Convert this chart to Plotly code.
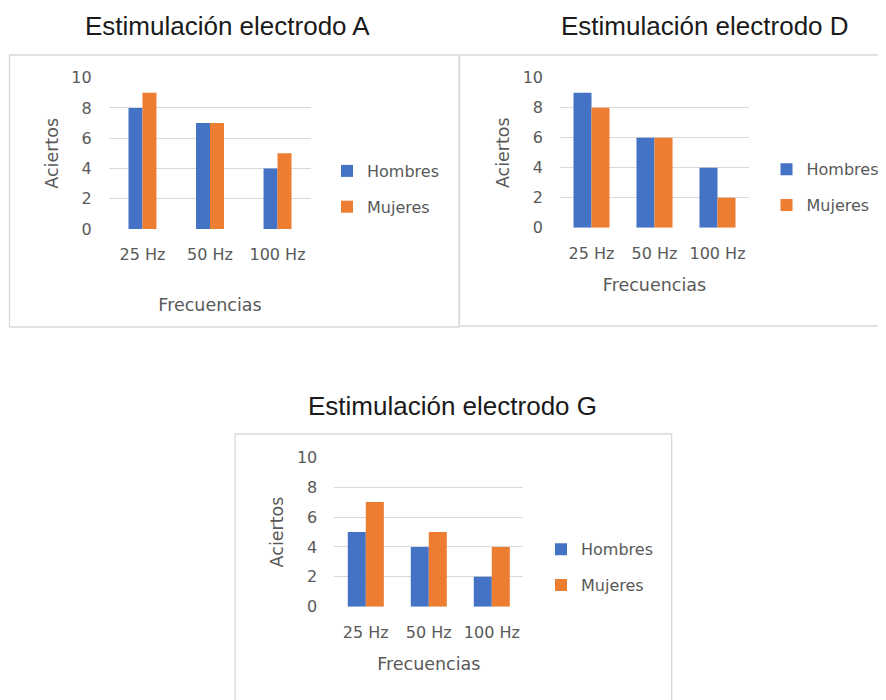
import plotly.graph_objects as go

# page body adds an 8px margin; the figure fills the rest of the 886x700 window
OFF = 8
W, H = 886 - OFF, 700 - OFF

categories = ["25 Hz", "50 Hz", "100 Hz"]
series_names = ["Hombres", "Mujeres"]
colors = ["#4472C4", "#ED7D31"]

a_hombres = [8, 7, 4]
a_mujeres = [9, 7, 5]
d_hombres = [9, 6, 4]
d_mujeres = [8, 6, 2]
g_hombres = [5, 4, 2]
g_mujeres = [7, 5, 4]

titles = ["Estimulación electrodo A", "Estimulación electrodo D", "Estimulación electrodo G"]
y_ticks = [0, 2, 4, 6, 8, 10]
x_title = "Frecuencias"
y_title = "Aciertos"

TXT = "#595959"
GRID = "#d9d9d9"
FONT = "DejaVu Sans"


def px(x):
    return (x - OFF) / W


def py(y):
    return 1 - (y - OFF) / H


panels = [
    dict(data=(a_hombres, a_mujeres), ax="", xd=(108.7, 311.3), yd=(229, 77.7), bw=0.207,
         leg="legend", legpos=(327, 154), xstand=35, title_pos=(227.5, 25.7)),
    dict(data=(d_hombres, d_mujeres), ax="2", xd=(560, 749), yd=(227.7, 77.7), bw=0.286,
         leg="legend2", legpos=(766.5, 152.3), xstand=17, title_pos=(705, 25.7)),
    dict(data=(g_hombres, g_mujeres), ax="3", xd=(334.3, 523.3), yd=(606.7, 457.3), bw=0.286,
         leg="legend3", legpos=(541, 532.3), xstand=17, title_pos=(452.5, 405.7)),
]

fig = go.Figure()
layout = dict(
    width=W, height=H, margin=dict(l=0, r=0, t=0, b=0, autoexpand=False),
    paper_bgcolor="white", plot_bgcolor="white",
    barmode="overlay", font=dict(family=FONT, size=16, color=TXT),
    annotations=[], shapes=[],
)

for i, p in enumerate(panels):
    xa = "x" + p["ax"]
    ya = "y" + p["ax"]
    for j, (name, vals) in enumerate(zip(series_names, p["data"])):
        fig.add_trace(go.Bar(
            x=categories, y=vals, name=name,
            marker=dict(color=colors[j], line=dict(width=0)),
            width=p["bw"], offset=-p["bw"] if j == 0 else 0,
            xaxis=xa, yaxis=ya, legend=p["leg"],
            legendgroup=f"{i}-{j}", showlegend=True,
        ))
    layout["xaxis" + p["ax"]] = dict(
        domain=[px(p["xd"][0]), px(p["xd"][1])], anchor=ya,
        type="category", showgrid=False, showline=False, zeroline=False,
        ticks="", ticklabelstandoff=14, automargin=False,
        tickfont=dict(family=FONT, size=16, color=TXT),
        title=dict(text=x_title, standoff=p["xstand"], font=dict(family=FONT, size=17.5, color=TXT)),
        fixedrange=True,
    )
    layout["yaxis" + p["ax"]] = dict(
        domain=[py(p["yd"][0]), py(p["yd"][1])], anchor=xa,
        range=[0, 10], tickvals=y_ticks, showgrid=True, gridcolor=GRID, gridwidth=1,
        zeroline=False, showline=False, ticks="", ticklabelstandoff=16, automargin=False,
        tickfont=dict(family=FONT, size=16, color=TXT),
        title=dict(text=y_title, standoff=8, font=dict(family=FONT, size=17.5, color=TXT)),
        fixedrange=True,
    )
    layout[p["leg"]] = dict(
        x=px(p["legpos"][0]), y=py(p["legpos"][1]), xanchor="left", yanchor="top",
        bgcolor="rgba(0,0,0,0)", font=dict(family=FONT, size=16, color=TXT),
        tracegroupgap=12, itemclick=False, itemdoubleclick=False,
    )
    layout["annotations"].append(dict(
        text=titles[i], x=px(p["title_pos"][0]), y=py(p["title_pos"][1]),
        xref="paper", yref="paper", xanchor="center", yanchor="middle", showarrow=False,
        font=dict(family="Liberation Sans", size=26, color="#1a1a1a"),
    ))

# chart area borders
boxes = [(9.5, 55, 459, 327), (459.5, 55, 892, 326), (235, 434, 671.7, 706)]
for x0, y0, x1, y1 in boxes:
    layout["shapes"].append(dict(
        type="rect", xref="paper", yref="paper",
        x0=px(x0), x1=px(x1), y0=py(y0), y1=py(y1),
        line=dict(color=GRID, width=1.3), fillcolor="rgba(0,0,0,0)", layer="below",
    ))

fig.update_layout(**layout)
fig.write_html("out.html")
